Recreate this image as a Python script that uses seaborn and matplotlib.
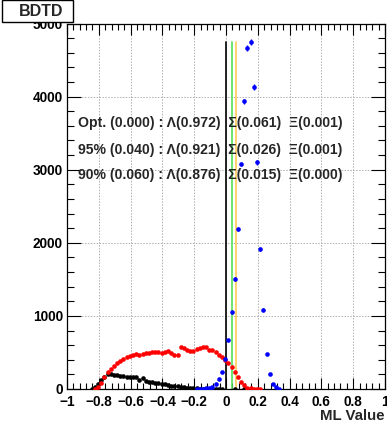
import numpy as np
import pandas as pd
import matplotlib
matplotlib.use("Agg")
import matplotlib.pyplot as plt
from matplotlib.patches import Rectangle
from matplotlib.ticker import MultipleLocator
import seaborn as sns

# ---------------- data ----------------
bin_width = 0.02

sig_start = -0.185
sig_counts = [2, 3, 5, 8, 15, 32, 68, 133, 237, 406, 671, 1050, 1502, 2188, 3078,
              3936, 4666, 4748, 4128, 3100, 1914, 1082, 475, 205, 73, 32, 5]
sig_errors = [1, 1, 1.5, 2, 2.5, 3.5, 5, 7, 9, 12, 16, 20, 24, 28, 33,
              38, 41, 42, 39, 33, 26, 20, 13, 9, 5, 3.5, 1.5]

bkg1_start = -0.825
bkg1_counts = [5, 30, 80, 165, 235, 280, 320, 350, 385, 405, 435, 455, 465, 475,
               470, 485, 495, 490, 510, 500, 505, 495, 510, 520, 490, 465, 470,
               570, 555, 530, 520, 525, 545, 560, 580, 570, 540, 535, 510, 470,
               440, 390, 350, 300, 235, 165, 100, 50, 20, 8, 3, 1, 0]

bkg2_start = -0.845
bkg2_counts = [2, 30, 75, 125, 170, 205, 200, 195, 190, 180, 175, 170, 165, 170,
               160, 125, 145, 105, 95, 90, 85, 80, 70, 65, 55, 45, 40, 35, 28,
               22, 18, 14, 10, 8, 6, 5, 4, 3, 2, 2, 1, 1]
bkg2_extra_x = [0.055, 0.115]
bkg2_extra_counts = [1, 1]

cut_values = [0.0, 0.04, 0.06]
cut_colors = ["black", "#55e055", "#ffcc55"]
cut_top = 4750

text_lines = [
    "Opt. (0.000) : \u039b(0.972)  \u03a3(0.061)  \u039e(0.001)",
    "95% (0.040) : \u039b(0.921)  \u03a3(0.026)  \u039e(0.001)",
    "90% (0.060) : \u039b(0.876)  \u03a3(0.015)  \u039e(0.000)",
]
text_y = [3640, 3270, 2930]

title = "BDTD"
xlabel = "ML Value"

# ---------------- frames ----------------
def centers(start, n):
    return np.round(start + bin_width * np.arange(n), 4)

sig = pd.DataFrame({"x": centers(sig_start, len(sig_counts)), "y": sig_counts, "e": sig_errors})
b1 = pd.DataFrame({"x": centers(bkg1_start, len(bkg1_counts)), "y": bkg1_counts})
b2 = pd.DataFrame({"x": np.concatenate([centers(bkg2_start, len(bkg2_counts)), bkg2_extra_x]),
                   "y": bkg2_counts + bkg2_extra_counts})

# ---------------- style ----------------
sns.set_style("white")
plt.rcParams["font.family"] = ["Liberation Sans", "DejaVu Sans"]
plt.rcParams["font.weight"] = "bold"

W, H = 387, 429
fig = plt.figure(figsize=(W / 100, H / 100), dpi=100)
ax = fig.add_axes([67 / W, 1 - 389 / H, (385 - 67) / W, (389 - 23.5) / H])

ax.grid(True, which="major", color="#b0b0b0", linestyle=(0, (1.5, 1.5)), linewidth=0.7)
ax.set_axisbelow(True)

# cut lines
for v, c in zip(cut_values, cut_colors):
    ax.plot([v, v], [0, cut_top], color=c, lw=1.2, zorder=2)

ms = 11
sns.scatterplot(data=b2, x="x", y="y", ax=ax, color="black", s=ms, linewidth=0, zorder=3, legend=False)
sns.scatterplot(data=b1, x="x", y="y", ax=ax, color="#ff0000", s=ms, linewidth=0, zorder=3, legend=False)
ax.errorbar(sig["x"], sig["y"], yerr=sig["e"], fmt="none", ecolor="#0000ff", elinewidth=1, zorder=3)
sns.scatterplot(data=sig, x="x", y="y", ax=ax, color="#0000ff", s=ms, linewidth=0, zorder=4, legend=False)

ax.set_xlim(-1, 1)
ax.set_ylim(0, 5000)
ax.set_xlabel("")
ax.set_ylabel("")

ax.xaxis.set_major_locator(MultipleLocator(0.2))
ax.xaxis.set_minor_locator(MultipleLocator(0.04))
ax.yaxis.set_major_locator(MultipleLocator(1000))
ax.yaxis.set_minor_locator(MultipleLocator(200))

def fmt_x(v, pos):
    if abs(v) < 1e-9:
        return "0"
    s = ("%.1f" % v).rstrip("0").rstrip(".") if abs(v - round(v)) > 1e-9 else "%d" % round(v)
    if s.startswith("-"):
        s = "\u2212" + s[1:]
    return s
ax.xaxis.set_major_formatter(plt.FuncFormatter(fmt_x))

ax.tick_params(which="both", direction="in", top=True, right=True, bottom=True, left=True,
               labelsize=9.8, width=0.8, colors="black")
ax.tick_params(axis="x", which="major", length=8, pad=4)
ax.tick_params(axis="x", which="minor", length=4)
ax.tick_params(axis="y", which="major", length=10, pad=3)
ax.tick_params(axis="y", which="minor", length=5)
for lab in ax.get_xticklabels() + ax.get_yticklabels():
    lab.set_fontweight("bold")

for sp in ax.spines.values():
    sp.set_color("black")
    sp.set_linewidth(0.9)

for t, y in zip(text_lines, text_y):
    ax.text(-0.93, y, t, fontsize=10.1, fontweight="bold", va="center", ha="left", zorder=5)

# title box
fig.add_artist(Rectangle((2 / W, 1 - 22 / H), 71 / W, 21.5 / H, transform=fig.transFigure,
                         facecolor="white", edgecolor="black", linewidth=1, zorder=10))
fig.text(41 / W, 1 - 11.5 / H, title, fontsize=11.5, fontweight="bold", ha="center", va="center", zorder=11)

fig.text(385 / W, 1 - 416 / H, xlabel, fontsize=10.8, fontweight="bold", ha="right", va="center")

fig.savefig("out.png", dpi=100)
